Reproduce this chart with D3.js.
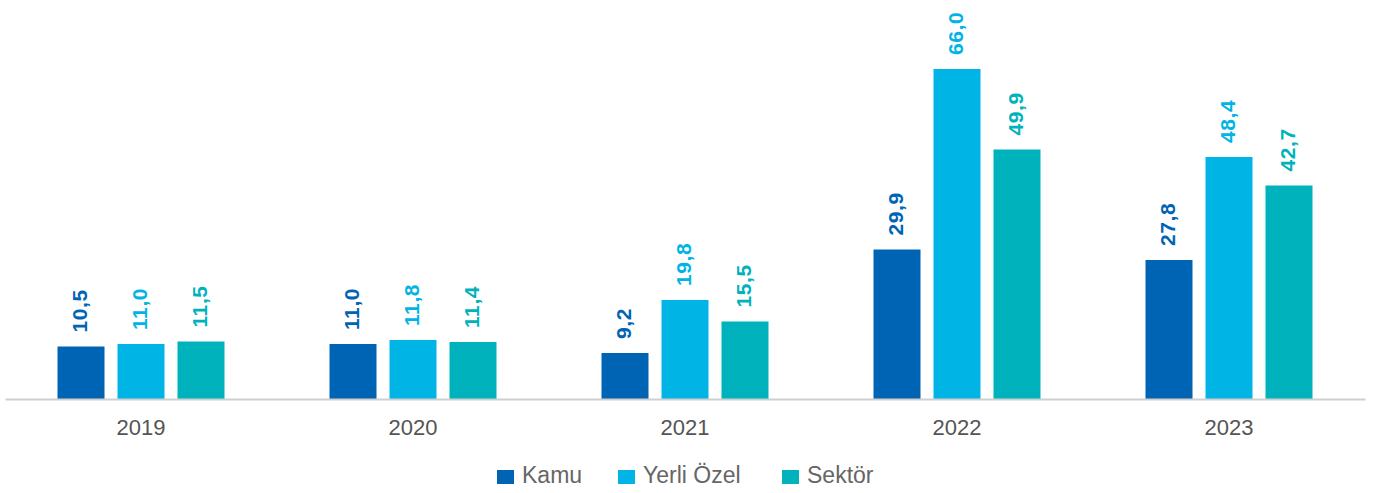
<!DOCTYPE html>
<html>
<head>
<meta charset="utf-8">
<script src="https://cdn.jsdelivr.net/npm/d3@7"></script>
<style>
  body { margin: 0; background: #fff; }
  text { font-family: "Liberation Sans", Arial, sans-serif; }
</style>
</head>
<body>
<div id="chart"></div>
<script>
var years = ["2019", "2020", "2021", "2022", "2023"];
var seriesNames = ["Kamu", "Yerli Özel", "Sektör"];
var kamu = [10.5, 11.0, 9.2, 29.9, 27.8];
var yerliOzel = [11.0, 11.8, 19.8, 66.0, 48.4];
var sektor = [11.5, 11.4, 15.5, 49.9, 42.7];
var colors = ["#0064B4", "#00B4E6", "#00B2BB"];

var seriesValues = [kamu, yerliOzel, sektor];

var width = 1382, height = 493;
var margin = {top: 69, left: 5, right: 17, bottom: 94};
var baseY = height - margin.bottom;

var svg = d3.select("#chart").append("svg")
    .attr("width", width)
    .attr("height", height);

var x = d3.scaleBand()
    .domain(years)
    .range([margin.left, width - margin.right]);

var y = d3.scaleLinear()
    .domain([0, 66])
    .range([baseY, margin.top]);

var barW = 47, barStep = 60;

// bars
seriesValues.forEach(function (vals, i) {
    var g = svg.append("g");
    var data = years.map(function (yr, j) { return {year: yr, value: vals[j]}; });
    var cx = function (d) { return x(d.year) + x.bandwidth() / 2 + (i - 1) * barStep; };

    g.selectAll("rect")
        .data(data)
        .enter().append("rect")
        .attr("x", function (d) { return cx(d) - barW / 2; })
        .attr("width", barW)
        .attr("y", function (d) { return y(d.value); })
        .attr("height", function (d) { return baseY - y(d.value); })
        .style("fill", colors[i]);

    g.selectAll("text")
        .data(data)
        .enter().append("text")
        .attr("transform", function (d) {
            return "translate(" + (cx(d) + 6) + "," + (y(d.value) - 14) + ") rotate(-90)";
        })
        .attr("text-anchor", "start")
        .style("font-size", "21px")
        .style("font-weight", "bold")
        .style("letter-spacing", "0.6px")
        .style("fill", colors[i])
        .text(function (d) { return d.value.toFixed(1).replace(".", ","); });
});

// axis
var axis = svg.append("g")
    .attr("transform", "translate(0," + baseY + ")")
    .call(d3.axisBottom(x).tickSize(0).tickPadding(20));
axis.select(".domain").attr("stroke", "#cfcfcf").attr("stroke-width", 2);
axis.selectAll("text")
    .attr("dy", 0)
    .attr("y", 36)
    .style("font-size", "22px")
    .style("fill", "#555")
    .style("font-family", "'Liberation Sans', Arial, sans-serif");

// legend
var legendX = [497, 618, 782];
var legend = svg.append("g");
seriesNames.forEach(function (name, i) {
    legend.append("rect")
        .attr("x", legendX[i])
        .attr("y", 470)
        .attr("width", 17)
        .attr("height", 14)
        .style("fill", colors[i]);
    legend.append("text")
        .attr("x", legendX[i] + 25)
        .attr("y", 483)
        .style("font-size", "23px")
        .style("fill", "#666")
        .text(name);
});
</script>
</body>
</html>
